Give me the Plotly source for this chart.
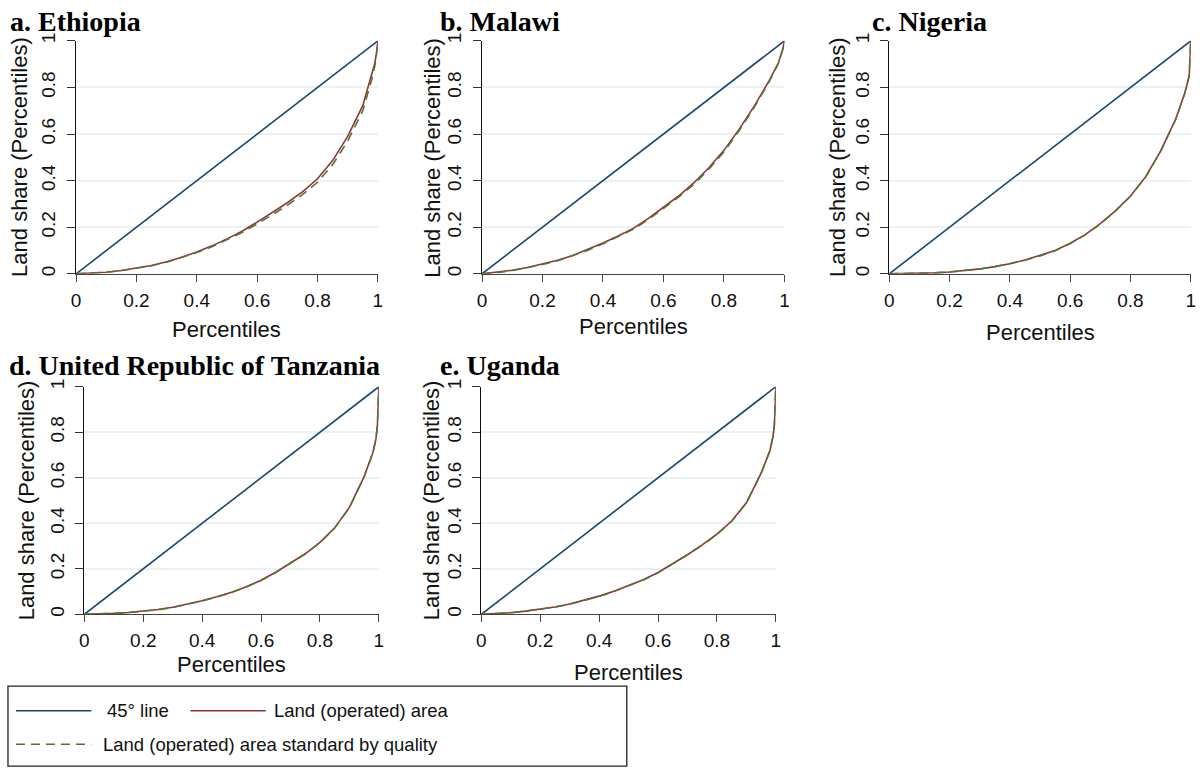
import plotly.graph_objects as go

# ---------------- data ----------------
percentiles = [0, 0.05, 0.10, 0.15, 0.20, 0.25, 0.30, 0.35, 0.40, 0.45, 0.50,
               0.55, 0.60, 0.65, 0.70, 0.75, 0.80, 0.85, 0.90, 0.95, 0.98,
               0.99, 0.995, 1.0]

line45_x = [0, 1]
line45_y = [0, 1]

eth_area = [0, .002, .007, .014, .024, .036, .052, .071, .094, .120, .150,
            .183, .222, .262, .305, .352, .408, .486, .590, .722, .852,
            .905, .945, 1.0]
eth_quality = [0, .002, .007, .014, .023, .035, .050, .069, .091, .116, .145,
               .177, .214, .253, .294, .340, .393, .468, .570, .700, .835,
               .893, .935, 1.0]

mwi_area = [0, .006, .015, .027, .041, .058, .079, .104, .132, .162, .195,
            .238, .285, .334, .390, .455, .530, .620, .720, .830, .906,
            .945, .967, 1.0]
mwi_quality = [0, .005, .014, .026, .040, .056, .077, .101, .129, .159, .191,
               .233, .280, .329, .384, .449, .524, .614, .715, .826, .903,
               .943, .966, 1.0]

nga_area = [0, .0003, .0015, .004, .008, .013, .021, .031, .043, .059, .078,
            .100, .131, .168, .215, .270, .334, .416, .527, .664, .775,
            .820, .850, 1.0]
nga_quality = [0, .0003, .0015, .004, .008, .013, .021, .031, .043, .058, .077,
               .099, .130, .167, .214, .269, .333, .415, .526, .663, .774,
               .820, .852, 1.0]

tza_area = [0, .001, .004, .008, .013, .021, .031, .044, .060, .077, .097,
            .121, .150, .185, .224, .266, .316, .380, .470, .605, .712,
            .770, .830, 1.0]
tza_quality = [0, .001, .004, .008, .013, .020, .030, .043, .059, .076, .096,
               .120, .149, .184, .223, .265, .315, .379, .469, .604, .711,
               .770, .832, 1.0]

uga_area = [0, .002, .007, .014, .022, .032, .045, .061, .080, .101, .125,
            .152, .184, .222, .262, .305, .352, .410, .490, .620, .720,
            .780, .830, 1.0]
uga_quality = [0, .002, .007, .014, .022, .032, .044, .060, .079, .100, .124,
               .151, .183, .221, .261, .304, .351, .409, .489, .619, .719,
               .779, .832, 1.0]

panel_titles = ["a. Ethiopia", "b. Malawi", "c. Nigeria",
                "d. United Republic of Tanzania", "e. Uganda"]
area_series = [eth_area, mwi_area, nga_area, tza_area, uga_area]
quality_series = [eth_quality, mwi_quality, nga_quality, tza_quality, uga_quality]

tick_vals = [0, 0.2, 0.4, 0.6, 0.8, 1]
tick_text = ["0", "0.2", "0.4", "0.6", "0.8", "1"]

legend_labels = ["45° line", "Land (operated) area",
                 "Land (operated) area standard by quality"]
x_title = "Percentiles"
y_title = "Land share (Percentiles)"

# ---------------- styling / layout ----------------
W, H = 1203, 771
NAVY = "#1a476f"
MAROON = "#90353b"
GREEN = "#55752f"
GRID = "#eaf2f3"
SANS = "Liberation Sans, Arial, sans-serif"
SERIF = "Liberation Serif, Times New Roman, serif"


def px(x):
    return x / W


def py(y):
    return 1 - y / H


# plot areas in pixels: (left, right, top, bottom)
boxes = [
    (71.7, 376.0, 33.3, 269.3),
    (481.0, 786.0, 33.3, 269.3),
    (891.7, 1195.7, 33.3, 269.3),
    (80.0, 377.0, 383.7, 614.3),
    (480.3, 777.3, 383.7, 614.3),
]
title_pos = [(3, 14), (437, 14), (872, 14), (2, 362), (437, 362)]
ytitle_off = [57, 50, 52, 58, 50]     # px left of the y axis
xtitle_off = [56, 53, 59, 51, 59]     # px below the x axis

fig = go.Figure()
annotations = []
shapes = []

for i in range(5):
    n = "" if i == 0 else str(i + 1)
    xa, ya = "x" + n, "y" + n
    fig.add_trace(go.Scatter(x=line45_x, y=line45_y, mode="lines",
                             line=dict(color=NAVY, width=1.6),
                             xaxis=xa, yaxis=ya, showlegend=False,
                             name=legend_labels[0]))
    fig.add_trace(go.Scatter(x=percentiles, y=area_series[i], mode="lines",
                             line=dict(color=MAROON, width=1.6),
                             xaxis=xa, yaxis=ya, showlegend=False,
                             name=legend_labels[1]))
    fig.add_trace(go.Scatter(x=percentiles, y=quality_series[i], mode="lines",
                             line=dict(color=GREEN, width=1.6, dash="9px,6px"),
                             xaxis=xa, yaxis=ya, showlegend=False,
                             name=legend_labels[2]))
    l, r, t, b = boxes[i]
    fig.layout["xaxis" + n] = dict(
        domain=[px(l), px(r)], anchor=ya, range=[0, 1],
        tickmode="array", tickvals=tick_vals, ticktext=tick_text,
        showgrid=False, zeroline=False, showline=True,
        linecolor="#444", linewidth=1.3, ticks="outside", ticklen=7,
        tickwidth=1.3, tickcolor="#444",
        tickfont=dict(family=SANS, size=19, color="#111"),
        ticklabelstandoff=2,
    )
    fig.layout["yaxis" + n] = dict(
        domain=[py(b), py(t)], anchor=xa, range=[0, 1],
        tickmode="array", tickvals=tick_vals, ticktext=tick_text,
        showgrid=True, gridcolor=GRID, gridwidth=1.5, zeroline=False,
        showline=True, linecolor="#111", linewidth=1.3, ticks="outside",
        ticklen=8, tickwidth=1.3, tickcolor="#333", tickangle=-90,
        tickfont=dict(family=SANS, size=19, color="#111"),
        ticklabelstandoff=4,
    )
    # panel title
    tx, ty = title_pos[i]
    annotations.append(dict(text=panel_titles[i], xref="paper", yref="paper",
                            x=px(tx), y=py(ty), xanchor="left", yanchor="middle",
                            showarrow=False,
                            font=dict(family=SERIF, size=28, color="#000",
                                      weight="bold")))
    # y-axis title
    annotations.append(dict(text=y_title, xref="paper", yref="paper",
                            x=px(l - ytitle_off[i]), y=py((t + b) / 2),
                            xanchor="center", yanchor="middle", textangle=-90,
                            showarrow=False,
                            font=dict(family=SANS, size=22, color="#111")))
    # x-axis title
    annotations.append(dict(text=x_title, xref="paper", yref="paper",
                            x=px((l + r) / 2), y=py(b + xtitle_off[i]),
                            xanchor="center", yanchor="middle",
                            showarrow=False,
                            font=dict(family=SANS, size=22, color="#111")))

# ---------------- legend (drawn as a framed key) ----------------
shapes.append(dict(type="rect", xref="paper", yref="paper",
                   x0=px(3), x1=px(627), y0=py(768), y1=py(687),
                   line=dict(color="#222", width=1.3), fillcolor="white"))
key_items = [
    (11, 87, 712, NAVY, "solid", 101, legend_labels[0]),
    (187, 263, 712, MAROON, "solid", 269, legend_labels[1]),
    (11, 87, 746, GREEN, "9px,6px", 97, legend_labels[2]),
]
for x0, x1, yy, col, dash, tx, lab in key_items:
    shapes.append(dict(type="line", xref="paper", yref="paper",
                       x0=px(x0), x1=px(x1), y0=py(yy), y1=py(yy),
                       line=dict(color=col, width=1.6, dash=dash)))
    annotations.append(dict(text=lab, xref="paper", yref="paper",
                            x=px(tx), y=py(yy), xanchor="left", yanchor="middle",
                            showarrow=False,
                            font=dict(family=SANS, size=18.5, color="#111")))

fig.update_layout(
    width=W, height=H, autosize=False,
    margin=dict(l=0, r=0, t=0, b=0),
    paper_bgcolor="white", plot_bgcolor="white",
    showlegend=False,
    annotations=annotations, shapes=shapes,
)

fig.write_html("out.html", config={"displayModeBar": False},
               post_script="document.body.style.margin='0';"
                           "document.body.style.overflow='hidden';")
